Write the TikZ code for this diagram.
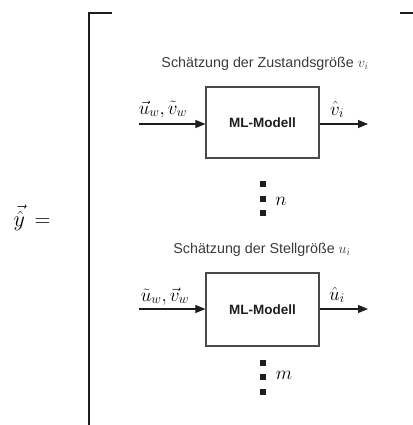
\RequirePackage{fix-cm}
\documentclass[tikz,border=0pt]{standalone}
\usepackage{amsmath}
\usepackage{fontspec}
\setmainfont{Liberation Sans}
\usetikzlibrary{arrows.meta}
\definecolor{ink}{HTML}{1E1E1E}
\definecolor{boxline}{HTML}{4A4A4A}
\definecolor{captext}{HTML}{3A3A3A}
\tikzset{
  mlbox/.style={draw=boxline, line width=1.2pt, fill=white, minimum width=113pt,
                minimum height=71pt, inner sep=0pt, text=ink,
                font=\fontsize{13.5}{16}\selectfont\bfseries},
  caption/.style={text=captext, inner sep=0pt, font=\fontsize{14.3}{17}\selectfont},
  signal/.style={ink, line width=1.1pt, -{Triangle[length=10pt,width=8pt]}},
  mathlabel/.style={inner sep=0pt, anchor=base, font=\fontsize{19}{22}\selectfont},
  dotsq/.style={fill=ink, draw=none, minimum size=5.5pt, inner sep=0pt},
  bracket/.style={ink, line width=1.8pt}
}
\begin{document}
\begin{tikzpicture}[x=1pt,y=-1pt]
  \useasboundingbox (0,0) rectangle (412,425);

  % left-hand side
  \node[mathlabel, font=\fontsize{22}{25}\selectfont] (lhs) at (32,226) {$\vec{\hat{y}}\,=$};

  % bracket
  \coordinate (btl) at (89,13);
  \coordinate (btr) at (112,13);
  \coordinate (bbl) at (89,426);
  \coordinate (rtl) at (400,13);
  \coordinate (rtr) at (413,13);
  \draw[bracket] (btr) -- (btl) -- (bbl);
  \draw[bracket] (rtl) -- (rtr);

  % state estimate block
  \node[caption] (cap1) at (265,64) {Schätzung der Zustandsgröße $v_i$};
  \node[mlbox] (box1) at (262.5,122.5) {ML-Modell};
  \coordinate (in1) at (139,124);
  \coordinate (out1) at (368,124);
  \draw[signal] (in1) -- (in1 -| box1.west);
  \draw[signal] (out1 -| box1.east) -- (out1);
  \node[mathlabel] (lin1) at (163,114) {$\vec{u}_w,\tilde{v}_w$};
  \node[mathlabel] (lout1) at (337,115) {$\hat{v}_i$};

  \node[dotsq] (d1a) at (263,184) {};
  \node[dotsq] (d1b) at (263,199) {};
  \node[dotsq] (d1c) at (263,213) {};
  \node[mathlabel] (n) at (281,205) {$n$};

  % control estimate block
  \node[caption] (cap2) at (262,250) {Schätzung der Stellgröße $u_i$};
  \node[mlbox, minimum height=73pt] (box2) at (262.5,309.5) {ML-Modell};
  \coordinate (in2) at (139,309);
  \coordinate (out2) at (368,309);
  \draw[signal] (in2) -- (in2 -| box2.west);
  \draw[signal] (out2 -| box2.east) -- (out2);
  \node[mathlabel] (lin2) at (165,301) {$\tilde{u}_w,\vec{v}_w$};
  \node[mathlabel] (lout2) at (337,300) {$\hat{u}_i$};

  \node[dotsq] (d2a) at (263,363) {};
  \node[dotsq] (d2b) at (263,377) {};
  \node[dotsq] (d2c) at (263,392) {};
  \node[mathlabel] (m) at (284,379) {$m$};
\end{tikzpicture}
\end{document}
